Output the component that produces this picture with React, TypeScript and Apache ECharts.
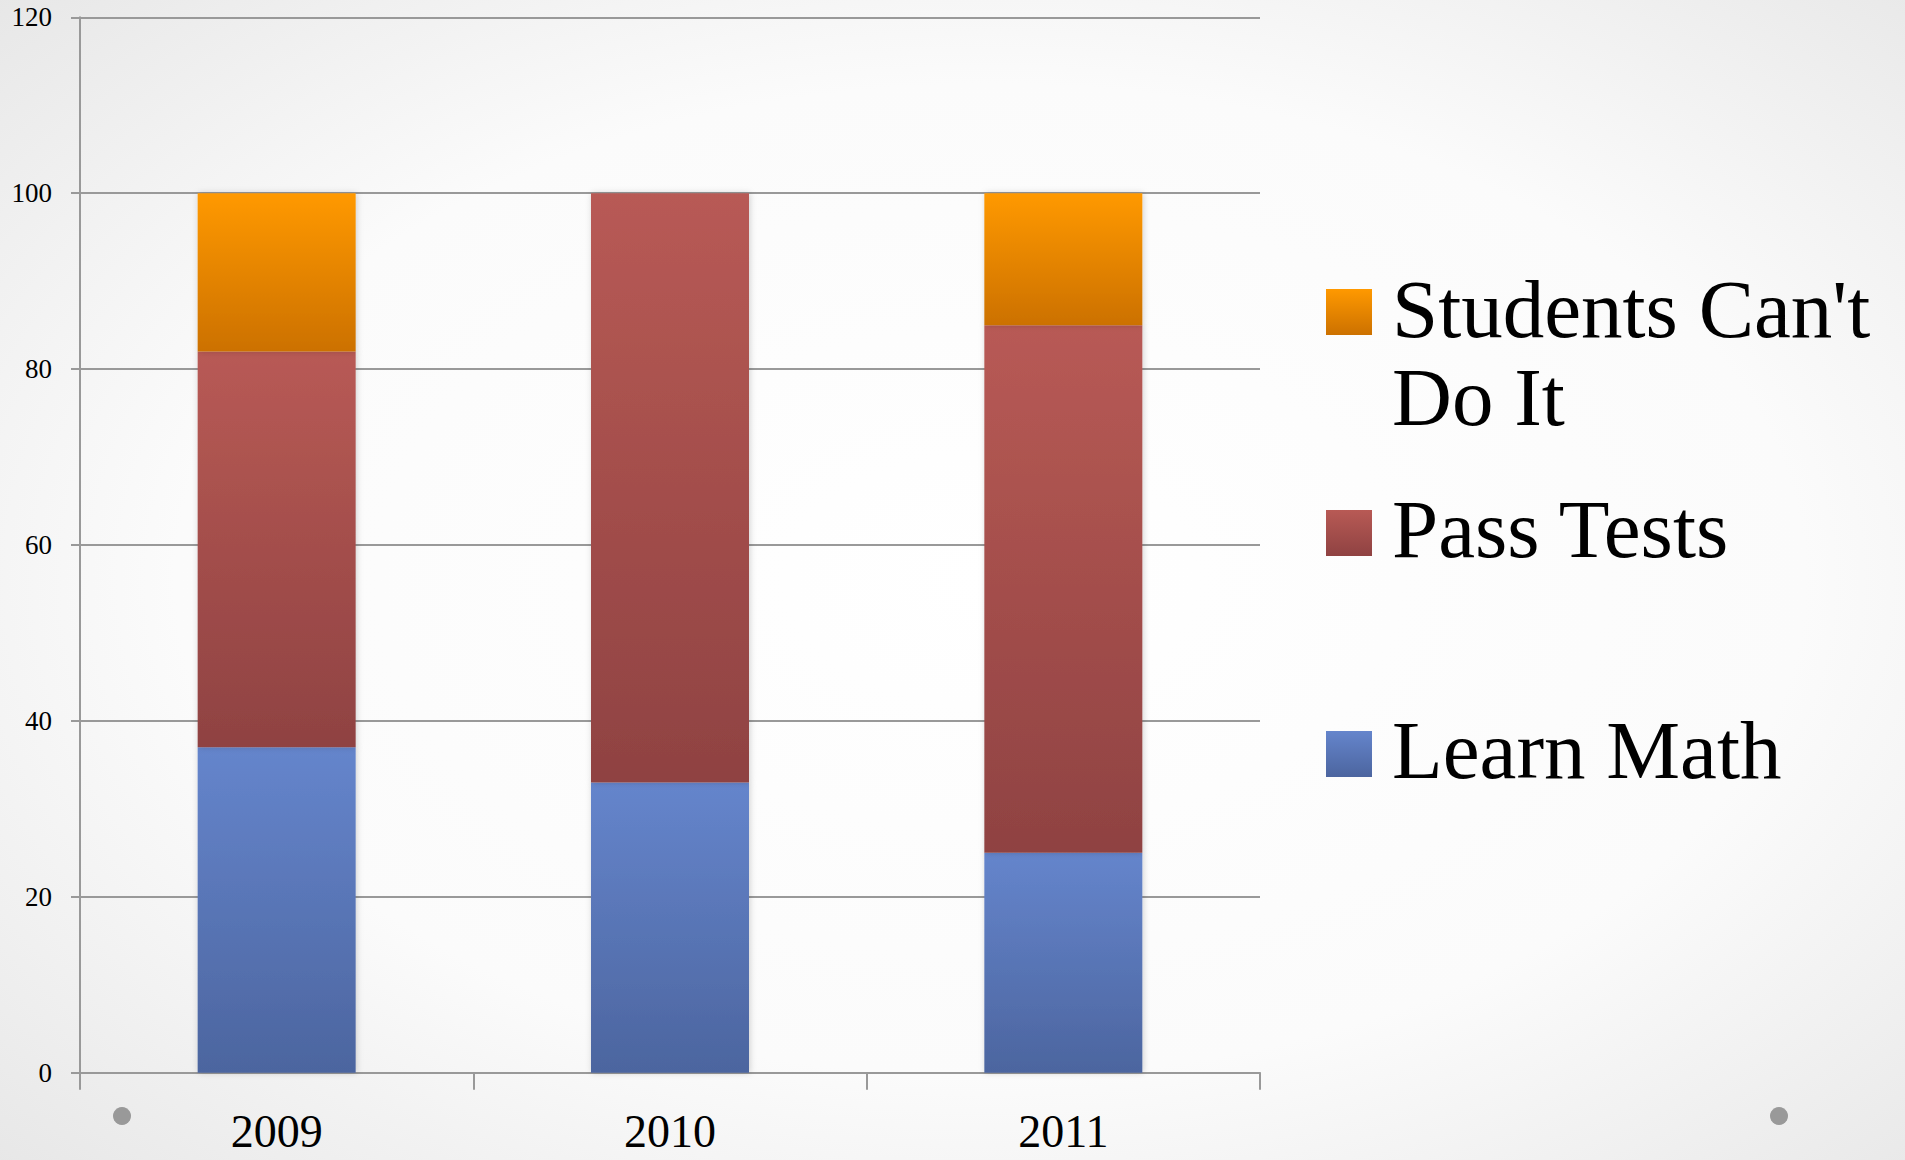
import React, { useEffect, useRef } from "react";
import * as echarts from "echarts";

const categories = ["2009", "2010", "2011"];
const learnMath = [37, 33, 25];
const passTests = [45, 67, 60];
const cantDoIt = [18, 0, 15];
const yTicks = { min: 0, max: 120, interval: 20 };

const seriesNames = ["Learn Math", "Pass Tests", "Students Can't Do It"];
const legendLines = [["Students Can't", "Do It"], ["Pass Tests"], ["Learn Math"]];

const grad = (top: string, bottom: string) =>
  new echarts.graphic.LinearGradient(0, 0, 0, 1, [
    { offset: 0, color: top },
    { offset: 1, color: bottom },
  ]);

const colors = {
  blue: ["#6585cc", "#4c659f"],
  red: ["#b85a55", "#8f4242"],
  orange: ["#ff9900", "#cc7100"],
};

export default function App() {
  const ref = useRef<HTMLDivElement>(null);
  useEffect(() => {
    document.body.style.margin = "0";
    document.body.style.overflow = "hidden";
    const chart = echarts.init(ref.current!, null, { renderer: "svg" });
    const serif = "'Liberation Serif', 'Times New Roman', serif";
    const barStyle = (c: string[]) => ({
      color: grad(c[0], c[1]),
      shadowBlur: 6,
      shadowColor: "rgba(0,0,0,0.18)",
      shadowOffsetX: 1,
    });
    const legendColors = [colors.orange, colors.red, colors.blue];
    const markerTops = [289, 510, 731];
    const baselines = [[337, 425], [557], [778]];
    const legendFont = 83;
    const graphic: any[] = [];
    legendLines.forEach((lines, i) => {
      graphic.push({
        type: "rect",
        shape: { x: 1326, y: markerTops[i], width: 46, height: 46 },
        style: { fill: grad(legendColors[i][0], legendColors[i][1]) },
      });
      lines.forEach((t, j) => {
        graphic.push({
          type: "text",
          x: 1392,
          y: baselines[i][j] - 0.3375 * legendFont,
          style: {
            text: t,
            font: `${legendFont}px ${serif}`,
            fill: "#000",
            verticalAlign: "middle",
            align: "left",
          },
        });
      });
    });
    graphic.push(
      { type: "circle", shape: { cx: 122, cy: 1116, r: 9 }, style: { fill: "#999" } },
      { type: "circle", shape: { cx: 1779, cy: 1116, r: 9 }, style: { fill: "#999" } }
    );

    chart.setOption({
      animation: false,
      backgroundColor: new echarts.graphic.RadialGradient(0.52, 0.5, 0.95, [
        { offset: 0, color: "#ffffff" },
        { offset: 0.45, color: "#fbfbfb" },
        { offset: 1, color: "#d8d8d8" },
      ]),
      grid: { left: 80, right: 645, top: 17.3, bottom: 87.3, containLabel: false },
      xAxis: {
        type: "category",
        data: categories,
        boundaryGap: true,
        axisLine: { lineStyle: { color: "#999", width: 2 } },
        axisTick: { show: true, length: 17, lineStyle: { color: "#999", width: 2 } },
        axisLabel: { color: "#000", fontFamily: serif, fontSize: 46, lineHeight: 36, margin: 41 },
      },
      yAxis: {
        type: "value",
        min: yTicks.min,
        max: yTicks.max,
        interval: yTicks.interval,
        axisLine: { show: true, lineStyle: { color: "#999", width: 2 } },
        axisTick: { show: true, length: 9, lineStyle: { color: "#999", width: 2 } },
        splitLine: { lineStyle: { color: "#999", width: 2 } },
        axisLabel: { color: "#000", fontFamily: serif, fontSize: 27, margin: 28 },
      },
      graphic,
      series: [
        { name: seriesNames[0], type: "bar", stack: "s", data: learnMath, barWidth: 158, itemStyle: barStyle(colors.blue) },
        { name: seriesNames[1], type: "bar", stack: "s", data: passTests, barWidth: 158, itemStyle: barStyle(colors.red) },
        { name: seriesNames[2], type: "bar", stack: "s", data: cantDoIt, barWidth: 158, itemStyle: barStyle(colors.orange) },
      ],
    });
    return () => chart.dispose();
  }, []);
  return <div ref={ref} style={{ width: 1905, height: 1160 }} />;
}
